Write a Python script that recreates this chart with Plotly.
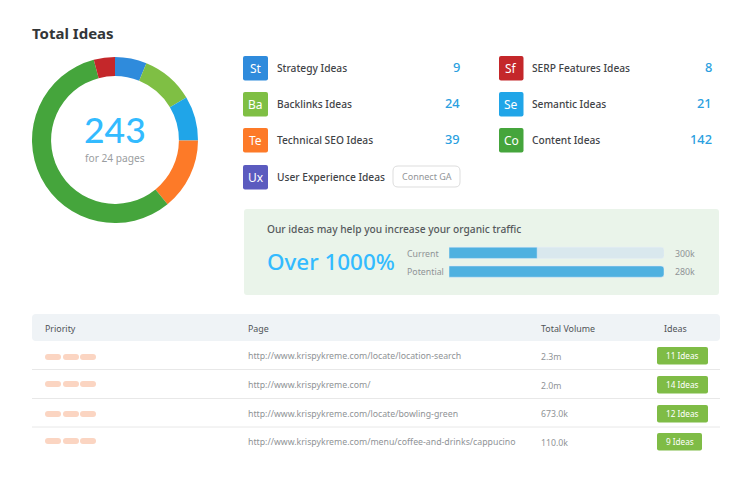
import plotly.graph_objects as go

FONT = "Noto Sans"

# ---- data ----
title = "Total Ideas"
total = "243"
total_sub = "for 24 pages"

donut_names = ["Strategy", "Backlinks", "Semantic", "Technical SEO", "Content", "SERP Features"]
donut_shares = [15, 25, 21, 34, 138, 10]
donut_colors = ["#2f8bdc", "#7fbf44", "#20a5e8", "#fd7a28", "#45a53c", "#c4272a"]

left_badges = ["St", "Ba", "Te", "Ux"]
left_labels = ["Strategy Ideas", "Backlinks Ideas", "Technical SEO Ideas", "User Experience Ideas"]
left_values = ["9", "24", "39", None]
left_colors = ["#2f8bdc", "#7fbf44", "#fd7a28", "#5b5bbf"]

right_badges = ["Sf", "Se", "Co"]
right_labels = ["SERP Features Ideas", "Semantic Ideas", "Content Ideas"]
right_values = ["8", "21", "142"]
right_colors = ["#c4272a", "#20a5e8", "#45a53c"]

traffic_title = "Our ideas may help you increase your organic traffic"
traffic_big = "Over 1000%"
traffic_cats = ["Current", "Potential"]
traffic_fill = [41, 100]
traffic_labels = ["300k", "280k"]

headers = ["Priority", "Page", "Total Volume", "Ideas"]
pages = [
    "http://www.krispykreme.com/locate/location-search",
    "http://www.krispykreme.com/",
    "http://www.krispykreme.com/locate/bowling-green",
    "http://www.krispykreme.com/menu/coffee-and-drinks/cappucino",
]
volumes = ["2.3m", "2.0m", "673.0k", "110.0k"]
ideas = ["11 Ideas", "14 Ideas", "12 Ideas", "9 Ideas"]

# ---- layout helpers (pixel coordinates on a hidden full-page axis) ----
W, H = 750, 483
shapes, notes = [], []


def rrect(x0, y0, x1, y1, r, fill, line=None):
    p = (f"M{x0+r},{y0} L{x1-r},{y0} Q{x1},{y0} {x1},{y0+r} L{x1},{y1-r} Q{x1},{y1} {x1-r},{y1} "
         f"L{x0+r},{y1} Q{x0},{y1} {x0},{y1-r} L{x0},{y0+r} Q{x0},{y0} {x0+r},{y0} Z")
    shapes.append(dict(type="path", path=p, xref="x", yref="y", fillcolor=fill,
                       line=dict(color=line or fill, width=1 if line else 0), layer="below"))


def text(x, y, s, size, color, anchor="left", weight=400, family=FONT):
    notes.append(dict(x=x, y=y, xref="x", yref="y", text=s,
                      showarrow=False, xanchor=anchor, yanchor="middle", borderpad=0, borderwidth=0,
                      font=dict(family=family, size=size, color=color, weight=weight)))


TXT = "#3f4347"
GREY = "#8f9396"
NUM = "#2a9fe0"
BIG = "#33bbff"

text(32, 33, title, 15, "#333638", weight=700)
text(115, 129, total, 35.5, BIG, "center", weight=500, family="Lato")
text(115, 157.5, total_sub, 10.2, "#9a9da0", "center")

row_tops = [56, 92, 128, 165]
for top, b, lab, val, col in zip(row_tops, left_badges, left_labels, left_values, left_colors):
    rrect(243, top, 268, top + 24.5, 2, col)
    text(255.5, top + 12, b, 12, "white", "center")
    text(277, top + 12, lab, 10.2, TXT, weight=500)
    if val is not None:
        text(460, top + 11, val, 12.8, NUM, "right", weight=500)
for top, b, lab, val, col in zip(row_tops, right_badges, right_labels, right_values, right_colors):
    rrect(499, top, 523.5, top + 24.5, 2, col)
    text(511, top + 12, b, 12, "white", "center")
    text(532, top + 12, lab, 10.2, TXT, weight=500)
    text(711.5, top + 11, val, 12.8, NUM, "right", weight=500)

rrect(393, 166, 460, 187, 5, "white", "#dddddd")
text(426.5, 176.5, "Connect GA", 9, "#929598", "center")

rrect(244, 209, 719, 295, 3, "#eaf4ea")
text(266.5, 229, traffic_title, 10.2, "#55595c", weight=500)
text(266.5, 261, traffic_big, 22.4, BIG, weight=500)
for y, c, v in zip([253.5, 272], traffic_cats, traffic_labels):
    text(407, y, c, 8.8, GREY)
    text(695, y, v, 8.8, GREY, "right")

rrect(32, 314, 720, 341, 4, "#eff3f6")
for x, h in zip([45, 248, 541, 664], headers):
    text(x, 328, h, 8.9, "#505457")

for y in [369.5, 398.5, 427]:
    shapes.append(dict(type="line", x0=32, x1=720, y0=y, y1=y, xref="x", yref="y",
                       line=dict(color="#e8e8e8", width=1), layer="below"))

text_y = [356, 385, 413.5, 442]
pill_y = [354, 381, 411, 438]
badge_y = [347, 376, 405, 433]
for ty, py, by, pg, vol, idea in zip(text_y, pill_y, badge_y, pages, volumes, ideas):
    for px in [45, 63, 80]:
        rrect(px, py, px + 16, py + 6, 3, "#fbd5c2")
    text(248, ty, pg, 8.75, GREY)
    text(541, ty + 0.5, vol, 8.7, GREY)
    bw = 45 if idea.startswith("9") else 51
    rrect(657, by, 657 + bw, by + 17.5, 2, "#7fbc46")
    text(657 + bw / 2, by + 8.5, idea, 8.2, "white", "center")

fig = go.Figure()

fig.add_trace(go.Pie(
    labels=donut_names, values=donut_shares, hole=0.77, sort=False, direction="clockwise",
    rotation=0, marker=dict(colors=donut_colors, line=dict(width=0)), textinfo="none",
    hoverinfo="label", showlegend=False,
    domain=dict(x=[32 / W, 198 / W], y=[1 - 223 / H, 1 - 57 / H]),
))

# invisible point keeps the page axis alive
fig.add_trace(go.Scatter(x=[0], y=[0], mode="markers", marker=dict(opacity=0),
                         xaxis="x", yaxis="y", hoverinfo="skip", showlegend=False))

# traffic bars on their own axis
fig.add_trace(go.Bar(y=traffic_cats, x=[100, 100], orientation="h", marker=dict(color="#d9e8ee"),
                     xaxis="x2", yaxis="y2", hoverinfo="skip", showlegend=False, width=0.6))
fig.add_trace(go.Bar(y=traffic_cats, x=traffic_fill, orientation="h", marker=dict(color="#4fb1e0"),
                     xaxis="x2", yaxis="y2", hoverinfo="skip", showlegend=False, width=0.6))

hidden = dict(visible=False, showgrid=False, zeroline=False, fixedrange=True)
fig.update_layout(
    width=W, height=H, margin=dict(l=0, r=0, t=0, b=0, pad=0),
    paper_bgcolor="white", plot_bgcolor="rgba(0,0,0,0)",
    barmode="overlay", barcornerradius=3,
    xaxis=dict(range=[0, W], domain=[0, 1], **hidden),
    yaxis=dict(range=[H, 0], domain=[0, 1], **hidden),
    xaxis2=dict(range=[0, 100], domain=[449 / W, 664 / W], anchor="y2", **hidden),
    yaxis2=dict(autorange="reversed", domain=[1 - 281 / H, 1 - 243.4 / H], anchor="x2",
                type="category", **hidden),
    shapes=shapes, annotations=notes, font=dict(family=FONT),
)

fig.write_html("out.html", config=dict(displayModeBar=False),
               post_script="document.body.style.margin='0';document.documentElement.style.overflow='hidden';")
